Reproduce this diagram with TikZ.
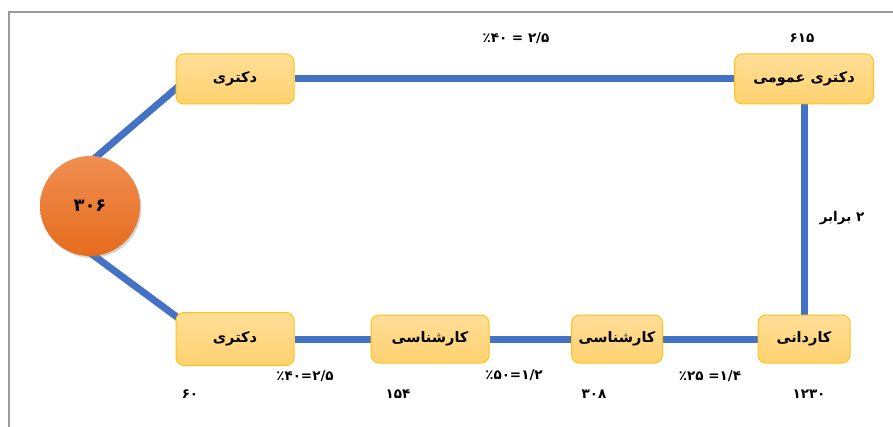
\documentclass[tikz,border=0pt]{standalone}
\usepackage{fontspec}
\usepackage{xcolor}
\usepackage{tikz}
\usetikzlibrary{shapes,positioning,fit,calc,shadows,backgrounds}
\TeXXeTstate=1
\newfontfamily\arabicfont[Script=Arabic]{DejaVu Sans}
\definecolor{linkblue}{RGB}{68,114,196}
\definecolor{boxtop}{RGB}{255,222,152}
\definecolor{boxbottom}{RGB}{255,210,112}
\definecolor{boxborder}{RGB}{255,194,20}
\definecolor{circletop}{RGB}{240,142,82}
\definecolor{circlebottom}{RGB}{230,108,28}
\definecolor{framegray}{RGB}{155,155,160}

\begin{document}
\begin{tikzpicture}[x=1pt, y=-1pt,
        level/.style={draw=boxborder, line width=1pt, rounded corners=8pt, top color=boxtop, bottom color=boxbottom,
            minimum height=50pt, inner sep=2pt, font=\arabicfont\bfseries\fontsize{14.5}{16}\selectfont},
        link/.style={draw=linkblue, line width=7pt},
        note/.style={font=\arabicfont\bfseries\fontsize{13.5}{15}\selectfont}]
        \useasboundingbox (0,0) rectangle (893,427);
        \draw[framegray, line width=2.5pt] (9,440) -- (9,12) -- (900,12);
        % levels
        \node[level, minimum width=118pt] (drtop) at (235,79) {\beginR دکتری\endR};
        \node[level, minimum width=139pt] (drgen) at (804,79) {\beginR دکتری عمومی\endR};
        \node[circle, minimum size=100pt, top color=circletop, bottom color=circlebottom,
            drop shadow={opacity=0.35, shadow xshift=1.5pt, shadow yshift=-2pt},
            font=\arabicfont\bfseries\fontsize{18}{20}\selectfont] (total) at (90,206) {۳۰۶};
        \node[level, minimum width=118pt, minimum height=53pt] (drbot) at (235,339) {\beginR دکتری\endR};
        \node[level, minimum width=118pt, minimum height=48pt] (bsone) at (430,339) {\beginR کارشناسی\endR};
        \node[level, minimum width=91pt, minimum height=48pt] (bstwo) at (617,339) {\beginR کارشناسی\endR};
        \node[level, minimum width=92pt, minimum height=48pt] (assoc) at (804,339) {\beginR کاردانی\endR};
        % links
        \begin{scope}[on background layer]
            \draw[link] (drtop) -- (drgen);
            \draw[link] (drgen) -- (assoc);
            \draw[link] (drbot) -- (bsone) -- (bstwo) -- (assoc);
            \draw[link, shorten <=-8pt, shorten >=-8pt] (total.82) -- ([yshift=-10pt]drtop.west);
            \draw[link, shorten <=-8pt, shorten >=-8pt] (total.-85) -- ([yshift=-4pt]drbot.north west);
        \end{scope}
        % numbers and ratios
        \node[note] (ratiotop) at (516,38) {\beginR ۲/۵ = ٪۴۰\endR};
        \node[note] (numgen) at (802,38) {۶۱۵};
        \node[note] (twice) at (842,218) {\beginR ۲ برابر\endR};
        \node[note] (ratioone) at (305,376) {\beginR ۲/۵=٪۴۰\endR};
        \node[note] (numdr) at (190,394) {۶۰};
        \node[note] (numbsone) at (398,394) {۱۵۴};
        \node[note] (ratiotwo) at (514,375) {\beginR ۱/۲=٪۵۰\endR};
        \node[note] (numbstwo) at (594,394) {۳۰۸};
        \node[note] (ratiothree) at (710,376) {\beginR ۱/۴= ٪۲۵\endR};
        \node[note] (numassoc) at (809,394) {۱۲۳۰};
    \end{tikzpicture}
\end{document}
